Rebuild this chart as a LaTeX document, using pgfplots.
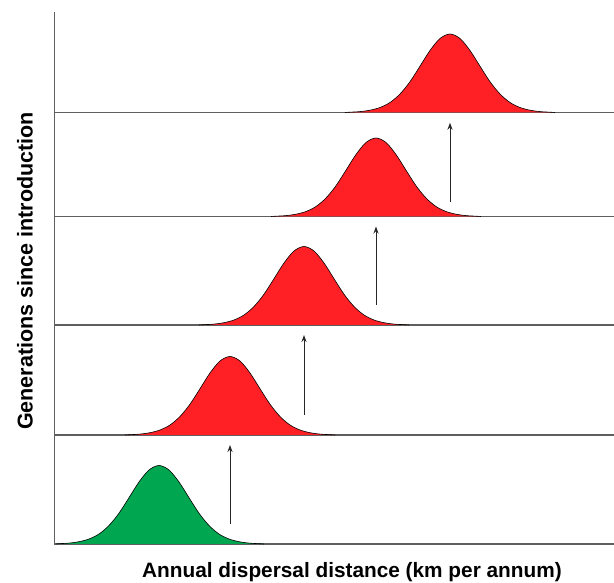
\documentclass[border=0pt]{standalone}
\usepackage{fontspec}
\setmainfont{Liberation Sans}
\usepackage{pgfplots}
\pgfplotsset{compat=1.18}
\usetikzlibrary{arrows.meta}
\definecolor{cred}{RGB}{255,32,38}
\definecolor{cgreen}{RGB}{0,166,80}
\definecolor{lgray}{RGB}{95,95,95}
\begin{document}
\begin{tikzpicture}
\path[use as bounding box] (-54.5pt,-39pt) rectangle (559.5pt,544pt);
\begin{axis}[
  scale only axis, width=559.5pt, height=532pt,
  xmin=54.5, xmax=614, ymin=0, ymax=532,
  axis x line=bottom, axis y line=left,
  axis line style={-, lgray, line width=1.1pt},
  xtick=\empty, ytick=\empty,
  clip=false,
  xlabel={Annual dispersal distance (km per annum)},
  ylabel={Generations since introduction},
  every axis x label/.style={at={(axis description cs:0.5317,-0.0526)},anchor=center,font=\fontsize{20.8}{23}\selectfont\bfseries},
  every axis y label/.style={at={(axis description cs:-0.0527,0.513)},anchor=center,rotate=90,font=\fontsize{21.5}{23}\selectfont\bfseries},
]
% baselines
\addplot[lgray, line width=1.1pt] coordinates {(54.5,109) (614,109)};
\addplot[lgray, line width=1.1pt] coordinates {(54.5,219) (614,219)};
\addplot[lgray, line width=1.1pt] coordinates {(54.5,327.5) (614,327.5)};
\addplot[lgray, line width=1.1pt] coordinates {(54.5,431.5) (614,431.5)};
% green
\addplot[smooth, fill=cgreen, draw=black, line width=0.6pt] coordinates {(56,0) (59,0.3) (69,0.9) (79,2.3) (89,5.0) (99,10.0) (109,18.5) (119,30.8) (129,46.3) (139,62.0) (149,74.0) (159,78.5) (169,74.0) (179,62.0) (189,46.3) (199,30.8) (209,18.5) (219,10.0) (229,5.0) (239,2.3) (249,0.9) (259,0.3) (264,0)};
% red 1
\addplot[smooth, fill=cred, draw=black, line width=0.6pt] coordinates {(125,109) (130,109.3) (140,109.9) (150,111.3) (160,114.0) (170,119.0) (180,127.5) (190,139.8) (200,155.3) (210,171.0) (220,183.0) (230,187.5) (240,183.0) (250,171.0) (260,155.3) (270,139.8) (280,127.5) (290,119.0) (300,114.0) (310,111.3) (320,109.9) (330,109.3) (335,109)};
% red 2
\addplot[smooth, fill=cred, draw=black, line width=0.6pt] coordinates {(199,219) (204,219.3) (214,219.9) (224,221.3) (234,224.0) (244,229.0) (254,237.5) (264,249.8) (274,265.3) (284,281.0) (294,293.0) (304,297.5) (314,293.0) (324,281.0) (334,265.3) (344,249.8) (354,237.5) (364,229.0) (374,224.0) (384,221.3) (394,219.9) (404,219.3) (409,219)};
% red 3
\addplot[smooth, fill=cred, draw=black, line width=0.6pt] coordinates {(271,327.5) (276,327.8) (286,328.4) (296,329.8) (306,332.5) (316,337.5) (326,346.0) (336,358.3) (346,373.8) (356,389.5) (366,401.5) (376,406.0) (386,401.5) (396,389.5) (406,373.8) (416,358.3) (426,346.0) (436,337.5) (446,332.5) (456,329.8) (466,328.4) (476,327.8) (481,327.5)};
% red 4
\addplot[smooth, fill=cred, draw=black, line width=0.6pt] coordinates {(345,431.5) (350,431.8) (360,432.4) (370,433.8) (380,436.5) (390,441.5) (400,450.0) (410,462.3) (420,477.8) (430,493.5) (440,505.5) (450,510.0) (460,505.5) (470,493.5) (480,477.8) (490,462.3) (500,450.0) (510,441.5) (520,436.5) (530,433.8) (540,432.4) (550,431.8) (555,431.5)};
% arrows
\addplot[-{Stealth[length=7pt,width=5pt]}, black!85, line width=1pt] coordinates {(230,20) (230,99)};
\addplot[-{Stealth[length=7pt,width=5pt]}, black!85, line width=1pt] coordinates {(304,129) (304,209)};
\addplot[-{Stealth[length=7pt,width=5pt]}, black!85, line width=1pt] coordinates {(376,239) (376,317.5)};
\addplot[-{Stealth[length=7pt,width=5pt]}, black!85, line width=1pt] coordinates {(450,342.3) (450,421.3)};
\end{axis}
\end{tikzpicture}
\end{document}
